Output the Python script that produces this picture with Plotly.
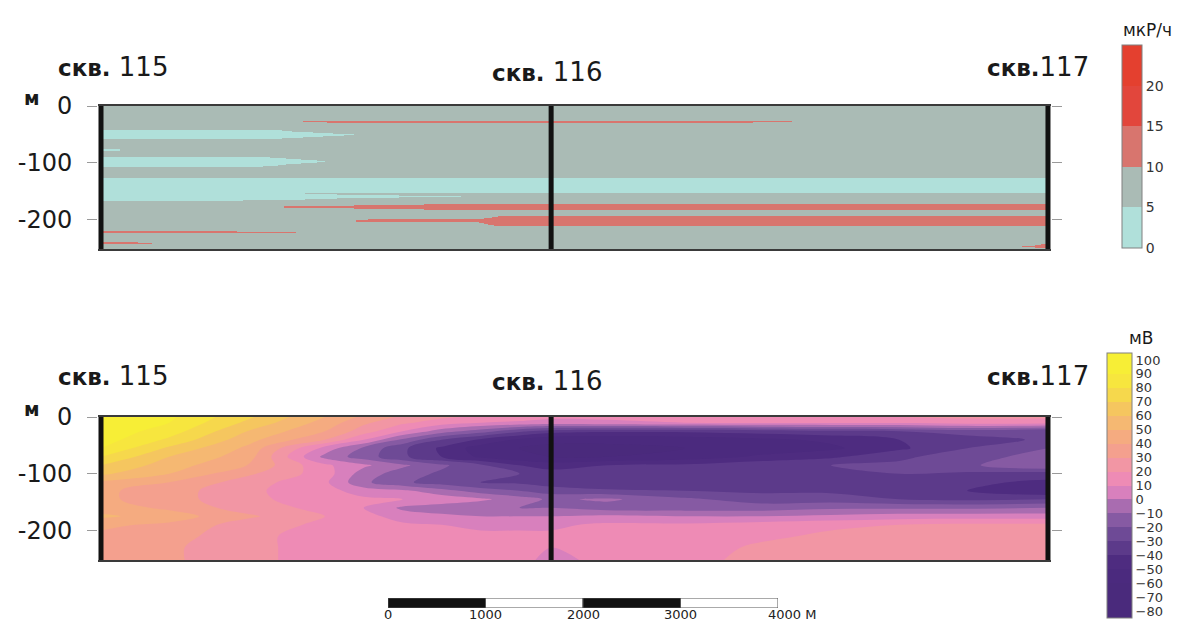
import numpy as np
import plotly.graph_objects as go

# ------------------------------------------------------------------ data
well_prefix = ["скв.", "скв.", "скв."]
well_numbers = [" 115", " 116", "117"]
well_x = [0, 4625, 9730]                 # distance along profile, m
well_label_shift = [12, -4, -10]         # px, label offset from well

depth_ticks = [0, -100, -200]
depth_tick_text = ["0", "-100", "-200"]
depth_bottom = -252

# --- gamma-activity section (мкР/ч): background value and lenses
gamma_background = 7
lens_x0 = [0, 0, 0, 0, 0, 1950, 1700, 2500, 3800, 0, 0, 9450]
lens_x1 = [2600, 230, 2330, 9730, 3700, 7300, 9730, 4000, 9730, 2000, 600, 9730]
lens_top = [-42, -75, -89, -127, -152, -26, -173, -200, -194, -221, -240, -244]
lens_bot = [-59, -80, -107, -153, -167, -30, -183, -205, -212, -224, -244, -251]
lens_taper_l = [0, 0, 0, 0, 0, 500, 1800, 300, 300, 0, 0, 250]
lens_taper_r = [900, 100, 700, 0, 2400, 800, 0, 0, 0, 900, 300, 0]
lens_val = [2, 2, 2, 2, 2, 12, 12, 12, 12, 11, 12, 12]

gamma_levels = [0, 5, 10, 15, 20, 25]
gamma_colors = ["#b0e0da", "#aabbb5", "#d8756e", "#e2463c", "#e4402f"]
gamma_ticks = [0, 5, 10, 15, 20]

# --- self-potential section (мВ): depth profiles read at several stations
sp_x = [0, 700, 1500, 2300, 2700, 3100, 3500, 3900, 4300, 4625,
        5200, 6000, 6800, 7500, 8200, 8900, 9730]
sp_depth = [0, -10, -25, -40, -55, -70, -85, -100, -115, -130,
            -145, -160, -175, -190, -210, -230, -252]
sp_profiles = [
    [100, 99, 97, 95, 90, 80, 70, 62, 48, 42, 42, 45, 52, 42, 38, 35, 35],
    [92, 90, 85, 78, 68, 60, 55, 50, 40, 35, 35, 38, 45, 38, 35, 32, 32],
    [72, 68, 60, 54, 48, 45, 40, 32, 25, 22, 22, 25, 32, 25, 22, 22, 22],
    [50, 46, 40, 30, 6, -3, 12, 15, 12, 14, 16, 17, 20, 18, 17, 17, 17],
    [38, 32, 25, 10, -12, -15, 2, -5, -8, 5, 12, 10, 14, 14, 15, 15, 15],
    [28, 22, 10, -12, -28, -28, -8, -15, -18, 2, 10, -2, 5, 12, 14, 14, 14],
    [22, 15, -5, -30, -42, -40, -18, -22, -25, -6, 6, -5, 2, 10, 13, 13, 13],
    [18, 10, -15, -42, -55, -52, -28, -25, -30, -15, 2, -8, 0, 8, 12, 12, 12],
    [15, 8, -28, -52, -60, -58, -40, -30, -32, -20, -5, -10, 0, 8, 12, 12, 12],
    [12, 6, -35, -58, -62, -60, -45, -35, -35, -25, -12, -10, 0, 8, 12, 10, 8],
    [12, 8, -38, -58, -62, -60, -40, -32, -40, -28, -8, -15, 2, 12, 14, 12, 12],
    [15, 10, -38, -56, -60, -56, -38, -32, -40, -30, -18, -15, 0, 12, 15, 15, 18],
    [18, 12, -35, -52, -56, -48, -32, -30, -40, -32, -25, -15, 0, 15, 18, 22, 22],
    [20, 12, -32, -48, -52, -42, -30, -30, -38, -32, -25, -12, 2, 18, 22, 25, 25],
    [20, 12, -30, -40, -42, -32, -28, -30, -38, -35, -30, -12, 5, 20, 25, 25, 28],
    [22, 15, -25, -35, -30, -25, -22, -32, -38, -40, -32, -12, 5, 22, 25, 28, 30],
    [22, 15, -30, -28, -20, -15, -10, -35, -42, -50, -30, -10, 5, 22, 25, 28, 30],
]
sp_start, sp_end, sp_step = -80, 100, 10
sp_ticks = list(range(-80, 101, 10))
sp_colors = ["#4a2a7c", "#4a2a7c", "#4a2a7c", "#4b2a7e", "#4e2c80",
             "#5c3a8a", "#6e4a96", "#865aa3", "#a96cb0", "#d880bd",
             "#ee8bb5", "#f296a4", "#f4a08e", "#f5ab80", "#f5b872",
             "#f5c65f", "#f6d84c", "#f7e63e", "#f7ee36", "#f6f033"]

scale_ticks = [0, 1000, 2000, 3000, 4000]
scale_labels = ["0", "1000", "2000", "3000", "4000 М"]
scale_seg_start = [0, 1000, 2000, 3000]
scale_seg_len = [1000, 1000, 1000, 1000]
scale_seg_color = ["#111111", "#ffffff", "#111111", "#ffffff"]

# ------------------------------------------------------------------ helpers
W, H = 1178, 621
FONT = "DejaVu Sans"


def step_scale(bounds, colors):
    lo, hi = bounds[0], bounds[-1]
    out = []
    for i, c in enumerate(colors):
        out.append([(bounds[i] - lo) / (hi - lo), c])
        out.append([(bounds[i + 1] - lo) / (hi - lo), c])
    return out


# gamma grid painted from the lens table
gx = np.arange(10, 9730, 20.0)
gy = np.arange(depth_bottom + 0.5, 0, 1.0)
gz = np.full((gy.size, gx.size), gamma_background, dtype=float)
for x0, x1, t, b, tl, tr, v in zip(lens_x0, lens_x1, lens_top, lens_bot,
                                   lens_taper_l, lens_taper_r, lens_val):
    f = np.ones_like(gx)
    if tl > 0:
        f = np.minimum(f, (gx - x0) / tl)
    if tr > 0:
        f = np.minimum(f, (x1 - gx) / tr)
    f = np.clip(f, 0, 1)
    f[(gx < x0) | (gx > x1)] = 0
    c = (t + b) / 2.0
    h = (t - b) / 2.0 * f
    mask = np.abs(gy[:, None] - c) <= h[None, :]
    mask &= f[None, :] > 0
    gz[mask] = v

gamma_scale = step_scale(gamma_levels, gamma_colors)

sp_z = np.array(sp_profiles, dtype=float).T      # rows = depth
sp_bounds = [sp_start - sp_step / 2] + list(range(sp_start, sp_end + 1, sp_step)) + [sp_end + sp_step / 2]
sp_scale = step_scale(sp_bounds, sp_colors)


def px_x(p):
    return p / W


def px_y(p):
    return 1 - p / H


fig = go.Figure()

# top panel
fig.add_trace(go.Heatmap(
    x=gx, y=gy, z=gz, zmin=gamma_levels[0], zmax=gamma_levels[-1],
    colorscale=gamma_scale, zsmooth=False, xaxis="x", yaxis="y",
    hoverinfo="skip",
    colorbar=dict(
        x=px_x(1122), xanchor="left", xpad=0,
        y=px_y(45), yanchor="top", ypad=0,
        thickness=20, thicknessmode="pixels",
        len=203, lenmode="pixels",
        outlinewidth=1, outlinecolor="#808080",
        tickvals=gamma_ticks, ticks="",
        tickfont=dict(family=FONT, size=14, color="#333333"),
    ),
))

# bottom panel
fig.add_trace(go.Contour(
    x=sp_x, y=sp_depth, z=sp_z, xaxis="x2", yaxis="y2",
    colorscale=sp_scale,
    contours=dict(start=sp_start, end=sp_end, size=sp_step, coloring="fill"),
    line=dict(width=0), hoverinfo="skip",
    colorbar=dict(
        x=px_x(1107), xanchor="left", xpad=0,
        y=px_y(353), yanchor="top", ypad=0,
        thickness=25, thicknessmode="pixels",
        len=265, lenmode="pixels",
        outlinewidth=1, outlinecolor="#808080",
        tickvals=sp_ticks, ticks="",
        tickfont=dict(family=FONT, size=13, color="#333333"),
    ),
))

# wells
for xa, ya in (("x", "y"), ("x2", "y2")):
    for wx in well_x:
        fig.add_trace(go.Scatter(
            x=[wx, wx], y=[depth_bottom, 0], mode="lines",
            line=dict(color="#111111", width=5), xaxis=xa, yaxis=ya,
            hoverinfo="skip", showlegend=False))
    fig.add_trace(go.Scatter(
        x=well_x, y=[12] * len(well_x), mode="markers", cliponaxis=False,
        marker=dict(symbol="triangle-up", size=27, color="#111111"),
        xaxis=xa, yaxis=ya, hoverinfo="skip", showlegend=False))

# scale bar
fig.add_trace(go.Bar(
    x=scale_seg_len, base=scale_seg_start, y=[0] * 4, orientation="h",
    width=1, marker=dict(color=scale_seg_color, line=dict(color="#555555", width=1)),
    xaxis="x3", yaxis="y3", hoverinfo="skip", showlegend=False))

xdom = [px_x(98.08), px_x(1050.9)]
xr = [-30, 9760]
common_x = dict(domain=xdom, range=xr, showticklabels=False, ticks="",
                showgrid=False, zeroline=False, showline=True,
                linecolor="#3a3a3a", linewidth=2, mirror=True)
common_y = dict(range=[depth_bottom, 0], tickvals=depth_ticks, ticktext=depth_tick_text,
                ticks="outside", ticklen=10, tickcolor="#9a9a9a", tickwidth=1,
                mirror="ticks", showgrid=False, zeroline=False, showline=False,
                ticklabelstandoff=10,
                tickfont=dict(family=FONT, size=24, color="#1a1a1a"))

annotations = []
for i, wx in enumerate(well_x):
    lab = ("<b><span style='font-size:23px'>" + well_prefix[i] + "</span></b>"
           + well_numbers[i])
    for xa, ya, dy in (("x", "y", 39), ("x2", "y2", 41)):
        annotations.append(dict(
            x=wx, y=0, xref=xa, yref=ya, text=lab, showarrow=False,
            xshift=well_label_shift[i], yshift=dy - (5 if i == 1 else 0),
            font=dict(family=FONT, size=26, color="#1a1a1a"),
            xanchor="center", yanchor="middle"))
for yy in (98, 409):
    annotations.append(dict(x=px_x(32), y=px_y(yy), xref="paper", yref="paper",
                            text="<b>м</b>", showarrow=False,
                            font=dict(family=FONT, size=19, color="#1a1a1a"),
                            xanchor="center", yanchor="middle"))
annotations.append(dict(x=px_x(1147), y=px_y(30), xref="paper", yref="paper",
                        text="мкР/ч", showarrow=False,
                        font=dict(family=FONT, size=17, color="#1a1a1a"),
                        xanchor="center", yanchor="middle"))
annotations.append(dict(x=px_x(1141), y=px_y(338), xref="paper", yref="paper",
                        text="мВ", showarrow=False,
                        font=dict(family=FONT, size=17, color="#1a1a1a"),
                        xanchor="center", yanchor="middle"))
# scale-bar labels
for sv, sl in zip(scale_ticks, scale_labels):
    annotations.append(dict(x=sv, y=px_y(606), xref="x3", yref="paper",
                            text=sl, showarrow=False, borderpad=0,
                            xshift=(14 if sl.endswith("М") else 0),
                            font=dict(family=FONT, size=13, color="#222222"),
                            xanchor="center", yanchor="top"))

fig.update_layout(
    width=W, height=H,
    margin=dict(l=0, r=0, t=0, b=0, pad=0, autoexpand=False),
    paper_bgcolor="white", plot_bgcolor="white", showlegend=False,
    xaxis=dict(anchor="y", **common_x),
    yaxis=dict(anchor="x", domain=[px_y(249), px_y(106)], **common_y),
    xaxis2=dict(anchor="y2", **common_x),
    yaxis2=dict(anchor="x2", domain=[px_y(560), px_y(417)], **common_y),
    xaxis3=dict(anchor="y3", domain=[px_x(388), px_x(778)], range=[0, 4000],
                showticklabels=False, ticks="",
                showgrid=False, zeroline=False, showline=False),
    yaxis3=dict(anchor="x3", domain=[px_y(608), px_y(598)], range=[-0.5, 0.5],
                visible=False),
    annotations=annotations,
)

fig.write_html("out.html",
               config={"displayModeBar": False},
               post_script="document.body.style.margin='0px';"
                           "document.body.style.overflow='hidden';")
